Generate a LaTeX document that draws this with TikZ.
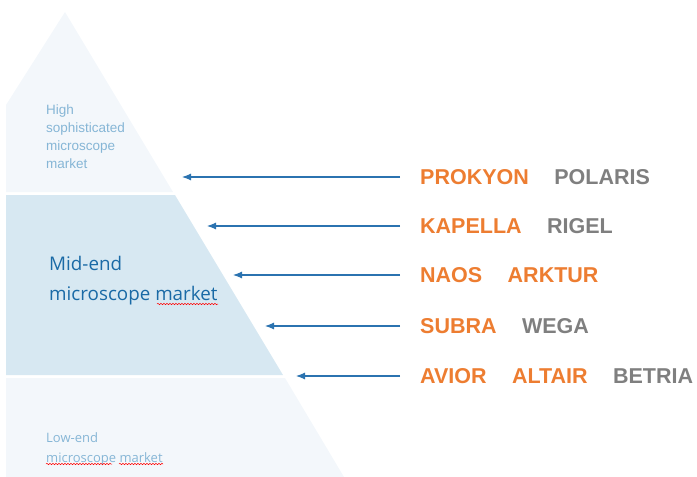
\documentclass[tikz,border=0pt]{standalone}
\usepackage{fontspec}
\setmainfont{Liberation Sans}
\newfontfamily\opensans{Open Sans}
\usetikzlibrary{positioning,arrows.meta,decorations.pathmorphing}
\definecolor{bandlight}{HTML}{F3F7FB}
\definecolor{bandmid}{HTML}{D7E8F2}
\definecolor{textlight}{HTML}{86B6D6}
\definecolor{textmid}{HTML}{1A6AA6}
\definecolor{arrowblue}{HTML}{2B73B0}
\definecolor{brandorange}{HTML}{ED7D31}
\definecolor{brandgray}{HTML}{7F7F7F}

\tikzset{
  brand/.style={inner sep=0pt, anchor=west, text depth=0pt,
    font=\bfseries\fontsize{21.5}{24}\selectfont},
  own/.style={brand, text=brandorange},
  other/.style={brand, text=brandgray},
  pointer/.style={draw=arrowblue, line width=1.1pt,
    -{Latex[length=9pt,width=7pt]}, shorten <=20pt},
  squiggle/.style={draw=red, line width=0.5pt, decorate,
    decoration={snake, amplitude=0.7pt, segment length=3pt}},
  band/.style={anchor=north west, align=left, inner sep=0pt},
}

\begin{document}
\begin{tikzpicture}[x=1pt,y=-1pt,node distance=25pt]
  \useasboundingbox (0,0) rectangle (697,477);

  % pyramid
  \fill[bandlight] (6,105) -- (65,12) -- (173,192) -- (6,192) -- cycle;
  \fill[bandmid] (6,195) -- (175,195) -- (283,375) -- (6,375) -- cycle;
  \fill[bandlight] (6,378) -- (285,378) -- (344,477) -- (6,477) -- cycle;

  \node[band, text=textlight, font=\fontsize{13.5}{18}\selectfont] (high) at (46,105)
    {High\\sophisticated\\microscope\\market};
  \node[band, text=textmid, font=\opensans\fontsize{18.8}{30}\selectfont] (mid) at (49,256)
    {Mid-end\\microscope market};
  \node[band, text=textlight, font=\opensans\fontsize{13}{20}\selectfont] (low) at (46,432)
    {Low-end\\microscope market};

  % spell check marks
  \draw[squiggle] (157,304) -- (218,304);
  \draw[squiggle] (46,464) -- (112,464);
  \draw[squiggle] (119,464) -- (163,464);

  % brands
  \node[own] (prokyon) at (420,177) {PROKYON};
  \node[other, right=of prokyon] (polaris) {POLARIS};
  \node[own] (kapella) at (420,226) {KAPELLA};
  \node[other, right=of kapella] (rigel) {RIGEL};
  \node[own] (naos) at (420,275) {NAOS};
  \node[own, right=of naos] (arktur) {ARKTUR};
  \node[own] (subra) at (420,326) {SUBRA};
  \node[other, right=of subra] (wega) {WEGA};
  \node[own] (avior) at (420,376) {AVIOR};
  \node[own, right=of avior] (altair) {ALTAIR};
  \node[other, right=of altair] (betria) {BETRIA};

  \coordinate (t1) at (182,177);
  \coordinate (t2) at (207,226);
  \coordinate (t3) at (233,275);
  \coordinate (t4) at (265,326);
  \coordinate (t5) at (296,376);

  \draw[pointer] (prokyon.west) -- (t1);
  \draw[pointer] (kapella.west) -- (t2);
  \draw[pointer] (naos.west) -- (t3);
  \draw[pointer] (subra.west) -- (t4);
  \draw[pointer] (avior.west) -- (t5);
\end{tikzpicture}
\end{document}
